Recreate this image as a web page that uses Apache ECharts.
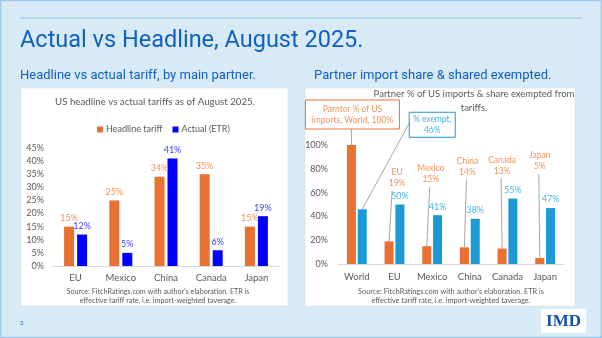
<!DOCTYPE html>
<html><head><meta charset="utf-8">
<script src="https://cdn.jsdelivr.net/npm/echarts@6/dist/echarts.min.js"></script>
<style>html,body{margin:0;padding:0;background:#D8EAF6;}#c{width:602px;height:338px;}</style>
</head><body><div id="c"></div>
<script>
// ---- data ----
const leftCategories = ['EU', 'Mexico', 'China', 'Canada', 'Japan'];
const headlineTariff = [15, 25, 34, 35, 15];
const actualETR = [12, 5, 41, 6, 19];
const leftTicks = { min: 0, max: 45, interval: 5 };

const rightCategories = ['World', 'EU', 'Mexico', 'China', 'Canada', 'Japan'];
const importShare = [100, 19, 15, 14, 13, 5];
const shareExempt = [46, 50, 41, 38, 55, 47];
const rightTicks = { min: 0, max: 100, interval: 20 };

// ---- styles ----
const ORANGE = '#E97132', ORANGE_TXT = '#F2945E';
const BLUE = '#0000FF', BLUE_TXT = '#3D3DFF';
const SKY = '#1B9AD6', SKY_TXT = '#45B4E6';
const GREY = '#595959';
const FONT = 'Lato, "Noto Sans", sans-serif';
const HFONT = 'Roboto, "Noto Sans", sans-serif';

// layout of orange annotations (pixel offsets: line dx at top, gap above bar, text dx)
const orangeAnnot = [null, [3, 51, 8], [3, 59, 4], [2, 68, 3], [-1, 70, 0], [-1, 84, 0]];

const chart = echarts.init(document.getElementById('c'), null, { renderer: 'canvas' });

function txt(text, x, y, size, color, align, extra) {
  return { type: 'text', x: x, y: y, z: 10, style: Object.assign({
    text: text, fontSize: size, fill: color, fontFamily: FONT, align: align || 'left', verticalAlign: 'middle'
  }, extra || {}) };
}

const option = {
  animation: false,
  backgroundColor: '#D8EAF6',
  textStyle: { fontFamily: FONT },
  graphic: [
    { type: 'rect', z: -20, shape: { x: 0.5, y: 0.5, width: 601, height: 337 }, style: { fill: 'none', stroke: '#9FC6E8', lineWidth: 1.5 } },
    { type: 'line', z: -20, shape: { x1: 20, y1: 18, x2: 582, y2: 18 }, style: { stroke: '#95BFE3', lineWidth: 1 } },
    txt('Actual vs Headline, August 2025.', 20, 41, 23.5, '#1060C0', 'left', { fontFamily: HFONT }),
    txt('Headline vs actual tariff, by main partner.', 20, 76, 13, '#1060C0', 'left', { fontFamily: HFONT }),
    txt('Partner import share & shared exempted.', 314, 76, 13, '#1060C0', 'left', { fontFamily: HFONT }),
    { type: 'rect', z: -10, shape: { x: 21, y: 88, width: 267, height: 218 }, style: { fill: '#FFFFFF', stroke: '#D9D9D9', lineWidth: 0.5 } },
    { type: 'rect', z: -10, shape: { x: 305, y: 88, width: 270, height: 218 }, style: { fill: '#FFFFFF', stroke: '#D9D9D9', lineWidth: 0.5 } },
    txt('US headline vs actual tariffs as of August 2025.', 155, 102, 9.7, GREY, 'center'),
    txt('Partner % of US imports & share exempted from', 474, 94, 9.5, GREY, 'center'),
    txt('tariffs.', 474, 108, 9.5, GREY, 'center'),
    txt('Source: FitchRatings.com with author\'s elaboration. ETR is', 158, 292, 7.2, GREY, 'center'),
    txt('effective tariff rate, i.e. import-weighted taverage.', 158, 301, 7.2, GREY, 'center'),
    txt('Source: FitchRatings.com with author\'s elaboration. ETR is', 451, 292, 7.3, GREY, 'center'),
    txt('effective tariff rate, i.e. import-weighted taverage.', 451, 301, 7.3, GREY, 'center'),
    txt('3', 20, 323, 6, '#2E75B6', 'left'),
    { type: 'rect', z: -10, shape: { x: 541, y: 309, width: 45, height: 24 }, style: { fill: '#FFFFFF' } },
    txt('IMD', 563.5, 321.5, 17, '#1450B4', 'center', { fontFamily: '"Liberation Serif", "DejaVu Serif", serif', fontWeight: 'bold' })
  ],
  legend: {
    data: ['Headline tariff', 'Actual (ETR)'],
    left: 92, top: 120, itemWidth: 6, itemHeight: 6, itemGap: 10, icon: 'rect',
    textStyle: { fontSize: 9, color: GREY, fontFamily: FONT, padding: [0, 0, 0, -2] }
  },
  grid: [
    { left: 53, right: 323, top: 148, bottom: 72 },
    { left: 338, right: 38, top: 145, bottom: 74 }
  ],
  xAxis: [
    { type: 'category', gridIndex: 0, data: leftCategories,
      axisLine: { lineStyle: { color: '#D9D9D9' } }, axisTick: { show: false },
      axisLabel: { color: GREY, fontSize: 9.5, margin: 7, interval: 0 } },
    { type: 'category', gridIndex: 1, data: rightCategories,
      axisLine: { lineStyle: { color: '#D9D9D9' } }, axisTick: { show: false },
      axisLabel: { color: GREY, fontSize: 9.5, margin: 8, interval: 0 } }
  ],
  yAxis: [
    { type: 'value', gridIndex: 0, min: leftTicks.min, max: leftTicks.max, interval: leftTicks.interval,
      splitLine: { show: false }, axisLine: { show: false }, axisTick: { show: false },
      axisLabel: { color: GREY, fontSize: 9, margin: 9, formatter: '{value}%' } },
    { type: 'value', gridIndex: 1, min: rightTicks.min, max: rightTicks.max, interval: rightTicks.interval,
      splitLine: { show: false }, axisLine: { show: false }, axisTick: { show: false },
      axisLabel: { color: GREY, fontSize: 9, margin: 10, formatter: '{value}%' } }
  ],
  series: [
    { name: 'Headline tariff', type: 'bar', xAxisIndex: 0, yAxisIndex: 0, data: headlineTariff,
      barWidth: 10, barGap: '30%', itemStyle: { color: ORANGE },
      label: { show: true, position: 'top', distance: 4, color: ORANGE_TXT, fontSize: 9, formatter: '{c}%' } },
    { name: 'Actual (ETR)', type: 'bar', xAxisIndex: 0, yAxisIndex: 0, data: actualETR,
      barWidth: 10, barGap: '30%', itemStyle: { color: BLUE },
      label: { show: true, position: 'top', distance: 4, color: BLUE_TXT, fontSize: 9, formatter: '{c}%' } },
    { name: 'Import share', type: 'bar', xAxisIndex: 1, yAxisIndex: 1, data: importShare,
      barWidth: 9, barGap: '20%', itemStyle: { color: ORANGE } },
    { name: 'Share exempted', type: 'bar', xAxisIndex: 1, yAxisIndex: 1,
      data: shareExempt.map((v, i) => i === 0 ? { value: v, label: { show: false } } : v),
      barWidth: 9, barGap: '20%', itemStyle: { color: SKY },
      label: { show: true, position: 'top', distance: 4, color: SKY_TXT, fontSize: 9, formatter: '{c}%' } },
    { name: 'import-annot', type: 'custom', xAxisIndex: 1, yAxisIndex: 1, clip: false, z: 5,
      data: importShare.map((v, i) => [i, v]),
      renderItem: function (params, api) {
        const i = api.value(0), v = api.value(1);
        const p = api.coord([i, v]);
        const bx = p[0] - 5.4, by = p[1];
        if (i === 0) {
          const w = 94, h = 29, top = by - 16 - h;
          return { type: 'group', children: [
            { type: 'line', shape: { x1: bx, y1: by, x2: bx, y2: top + h }, style: { stroke: '#A6A6A6', lineWidth: 1 } },
            { type: 'rect', shape: { x: bx - w / 2 + 1, y: top, width: w, height: h }, style: { fill: '#fff', stroke: ORANGE, lineWidth: 1 } },
            { type: 'text', style: { text: 'Parnter % of US\nimports, World, 100%', x: bx + 1, y: top + h / 2, align: 'center', verticalAlign: 'middle', fill: ORANGE_TXT, fontSize: 8.5, lineHeight: 11, fontFamily: FONT } }
          ] };
        }
        const a = orangeAnnot[i];
        const ty = by - a[1];
        return { type: 'group', children: [
          { type: 'line', shape: { x1: bx, y1: by, x2: bx + a[0], y2: ty }, style: { stroke: '#A6A6A6', lineWidth: 1 } },
          { type: 'text', style: { text: rightCategories[i] + '\n' + v + '%', x: bx + a[2], y: ty - 2, align: 'center', verticalAlign: 'bottom', fill: ORANGE_TXT, fontSize: 8.5, lineHeight: 11, fontFamily: FONT } }
        ] };
      } },
    { name: 'exempt-annot', type: 'custom', xAxisIndex: 1, yAxisIndex: 1, clip: false, z: 5,
      data: [[0, shareExempt[0]]],
      renderItem: function (params, api) {
        const i = api.value(0), v = api.value(1);
        const p = api.coord([i, v]);
        const bx = p[0] + 5.4, by = p[1];
        const bxL = bx + 47, w = 46, h = 25, top = by - 97;
        return { type: 'group', children: [
          { type: 'line', shape: { x1: bx, y1: by, x2: bxL, y2: top + 11 }, style: { stroke: '#A6A6A6', lineWidth: 1 } },
          { type: 'rect', shape: { x: bxL, y: top, width: w, height: h }, style: { fill: '#fff', stroke: SKY, lineWidth: 1 } },
          { type: 'text', style: { text: '% exempt,\n' + v + '%', x: bxL + w / 2, y: top + h / 2, align: 'center', verticalAlign: 'middle', fill: SKY_TXT, fontSize: 8.5, lineHeight: 11, fontFamily: FONT } }
        ] };
      } }
  ]
};
chart.setOption(option);
</script>
</body></html>
